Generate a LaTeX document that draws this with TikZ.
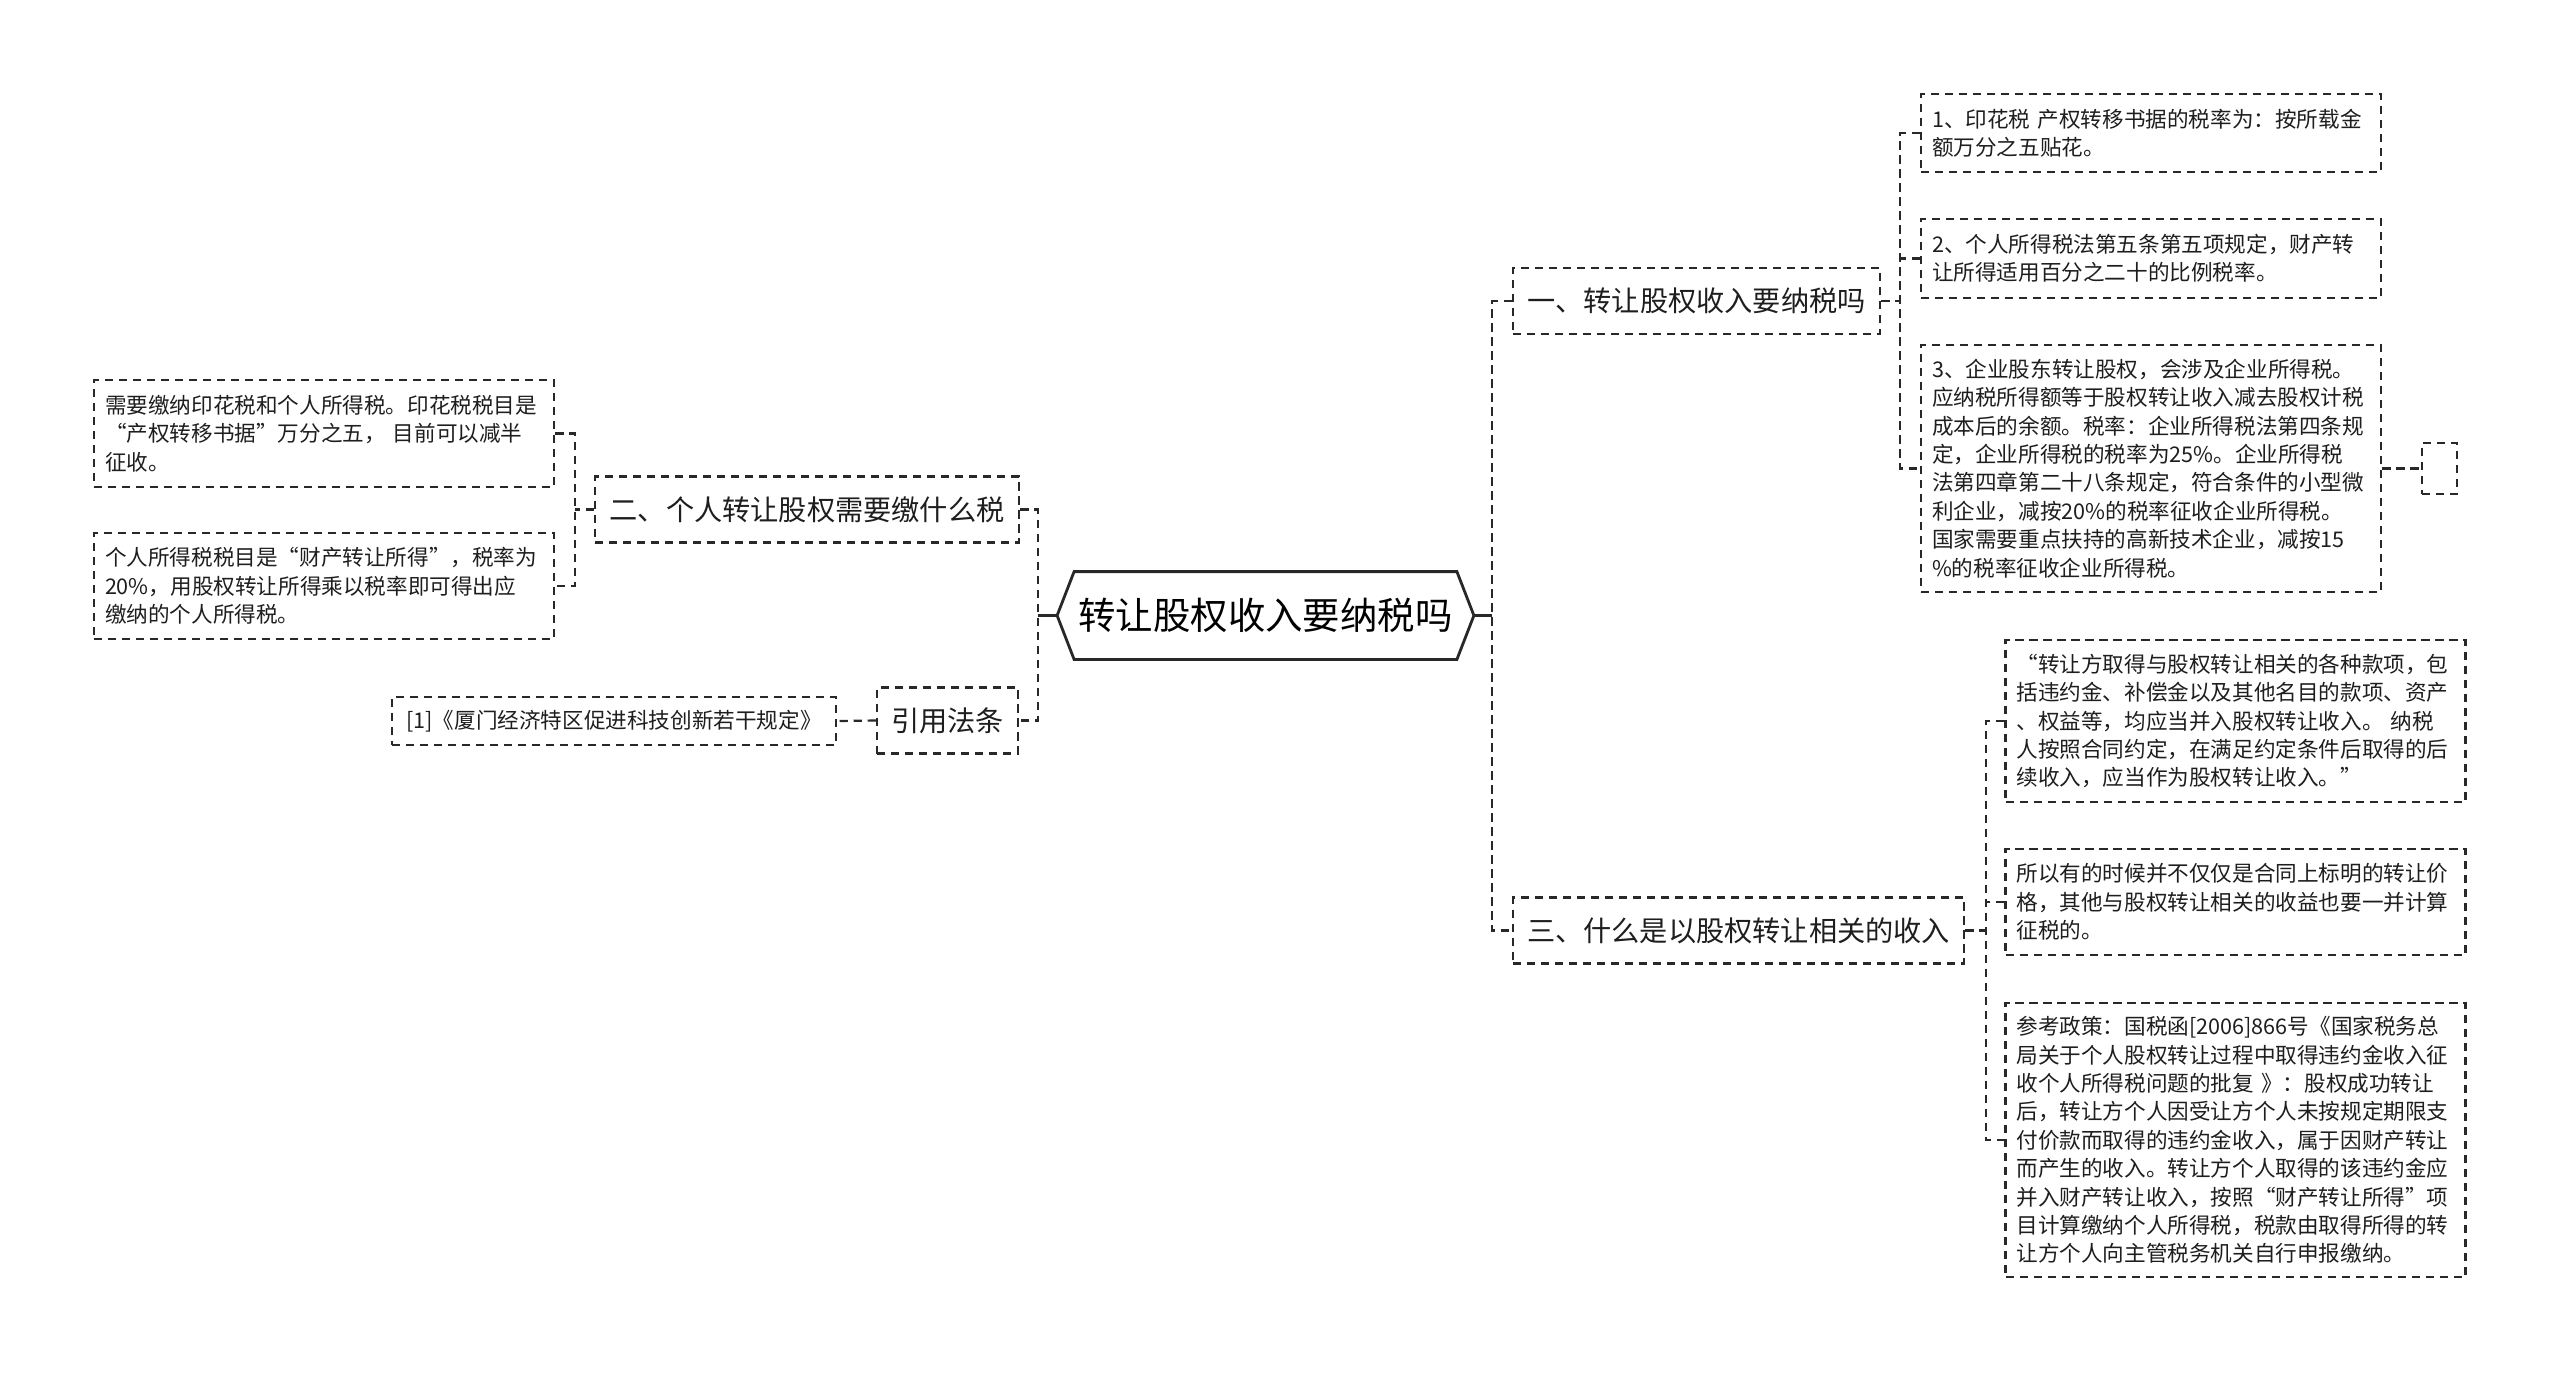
\documentclass[tikz,border=0pt]{standalone}
\usepackage{fontspec}
\setmainfont{Noto Sans CJK SC}
\usetikzlibrary{calc}
\definecolor{colline}{RGB}{40,40,40}
\definecolor{coltext}{RGB}{30,30,30}
\tikzset{%
      dotline/.style = { draw=colline, line width=1.1pt, dash pattern=on 4.2pt off 2.8pt },
       branch/.style = { dotline },
         stem/.style = { draw=colline, line width=1.4pt },
        topic/.style = { dotline, text=coltext, inner sep=0pt, minimum height=33pt, font=\fontsize{14.1}{17}\selectfont },
         leaf/.style = { dotline, text=coltext, inner xsep=5.5pt, inner ysep=0pt, text width=219pt, align=left, font=\fontsize{10.8}{14.2}\selectfont },
       refbox/.style = { dotline, text=coltext, inner sep=0pt, minimum width=222pt, minimum height=24pt, font=\fontsize{10.8}{14.2}\selectfont },
      rootbox/.style = { inner sep=0pt, minimum width=191pt, minimum height=43.5pt, font=\fontsize{18.7}{22}\selectfont }
}
\begin{document}
\begin{tikzpicture}[x=0.5pt, y=-0.5pt]

  \useasboundingbox (0,0) rectangle (2560,1373);
  \fill[white] (0,0) rectangle (2560,1373);

  \node[rootbox] (root) at (1265.5,615.5) {转让股权收入要纳税吗};
  \coordinate (rootL) at ([xshift=-8.5pt]root.west);
  \coordinate (rootR) at ([xshift=8.5pt]root.east);
  \draw[stem] (root.north west) -- (root.north east) -- (rootR) -- (root.south east) -- (root.south west) -- (rootL) -- cycle;

  \node[topic, minimum width=183.5pt] (n1) at (1696.5,301) {一、转让股权收入要纳税吗};
  \node[topic, minimum width=225.5pt] (n3) at (1738.5,930.5) {三、什么是以股权转让相关的收入};
  \node[topic, minimum width=212pt] (n2) at (807,509.5) {二、个人转让股权需要缴什么税};
  \node[topic, minimum width=70.5pt] (ref) at (947.5,720.5) {引用法条};

  \node[leaf, minimum height=39pt] (n1a) at (2151,133) {1、印花税~产权转移书据的税率为：按所载金\\额万分之五贴花。};
  \node[leaf, minimum height=39.5pt] (n1b) at (2151,258.5) {2、个人所得税法第五条第五项规定，财产转\\让所得适用百分之二十的比例税率。};
  \node[leaf, minimum height=123.5pt] (n1c) at (2151,468.5) {3、企业股东转让股权，会涉及企业所得税。\\应纳税所得额等于股权转让收入减去股权计税\\成本后的余额。税率：企业所得税法第四条规\\定，企业所得税的税率为25\%。企业所得税\\法第四章第二十八条规定，符合条件的小型微\\利企业，减按20\%的税率征收企业所得税。\\国家需要重点扶持的高新技术企业，减按15\\\%的税率征收企业所得税。};
  \node[dotline, inner sep=0pt, minimum width=17.5pt, minimum height=25.5pt] (n1d) at (2439.5,468.5) {};

  \node[leaf, minimum height=81pt] (n3a) at (2235.5,721) {“转让方取得与股权转让相关的各种款项，包\\括违约金、补偿金以及其他名目的款项、资产\\、权益等，均应当并入股权转让收入。~纳税\\人按照合同约定，在满足约定条件后取得的后\\续收入，应当作为股权转让收入。”};
  \node[leaf, minimum height=53pt] (n3b) at (2235.5,902) {所以有的时候并不仅仅是合同上标明的转让价\\格，其他与股权转让相关的收益也要一并计算\\征税的。};
  \node[leaf, minimum height=137pt] (n3c) at (2235.5,1140) {参考政策：国税函[2006]866号《国家税务总\\局关于个人股权转让过程中取得违约金收入征\\收个人所得税问题的批复~》：股权成功转让\\后，转让方个人因受让方个人未按规定期限支\\付价款而取得的违约金收入，属于因财产转让\\而产生的收入。转让方个人取得的该违约金应\\并入财产转让收入，按照“财产转让所得”项\\目计算缴纳个人所得税，税款由取得所得的转\\让方个人向主管税务机关自行申报缴纳。};

  \node[leaf, minimum height=53.5pt] (n2a) at (324,433.5) {需要缴纳印花税和个人所得税。印花税税目是\\“产权转移书据”万分之五，~目前可以减半\\征收。};
  \node[leaf, minimum height=53pt] (n2b) at (324,586) {个人所得税税目是“财产转让所得”，税率为\\20\%，用股权转让所得乘以税率即可得出应\\缴纳的个人所得税。};
  \node[refbox] (ref1) at (614,721) {[1]《厦门经济特区促进科技创新若干规定》};

  \coordinate (rtrunk) at (1492,615.5);
  \coordinate (ltrunk) at (1038,615.5);
  \coordinate (t1) at (1900,301);
  \coordinate (t3) at (1986,930.5);
  \coordinate (t2) at (575,509.5);

  \draw[stem] (rootR) -- (rtrunk);
  \draw[stem] (rootL) -- (ltrunk);
  \draw[branch] (n1.west) -| (rtrunk) |- (n3.west);
  \draw[branch] (n2.east) -| (ltrunk) |- (ref.east);

  \draw[branch] (n1.east) -- (t1);
  \draw[branch] (n1a.west) -| (t1) |- (n1c.west);
  \draw[branch] (n1b.west) -- (n1b.west -| t1);
  \draw[branch] (n1c.east) -- (n1d.west);

  \draw[branch] (n3.east) -- (t3);
  \draw[branch] (n3a.west) -| (t3) |- (n3c.west);
  \draw[branch] (n3b.west) -- (n3b.west -| t3);

  \draw[branch] (n2.west) -- (t2);
  \draw[branch] (n2a.east) -| (t2) |- (n2b.east);
  \draw[branch] (ref.west) -- (ref1.east);

\end{tikzpicture}
\end{document}
